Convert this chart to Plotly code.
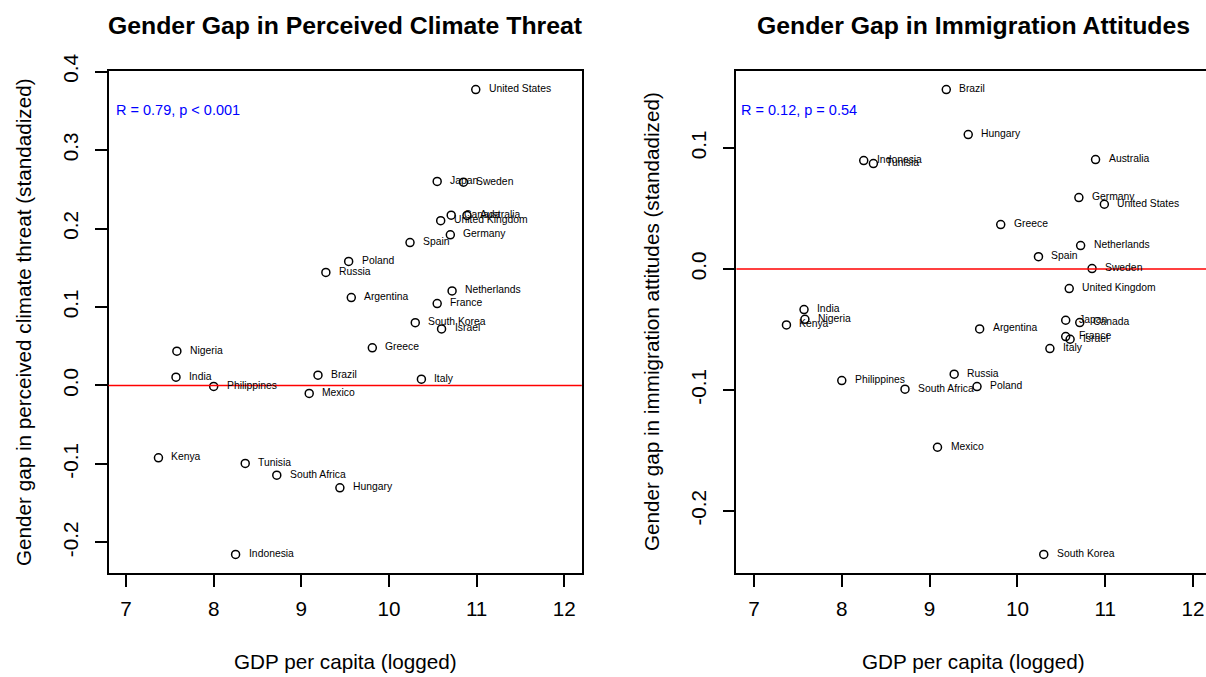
import plotly.graph_objects as go

# ---------------- data ----------------
countries = ["United States", "Japan", "Sweden", "Canada", "Australia", "United Kingdom",
             "Germany", "Spain", "Poland", "Russia", "Argentina", "Netherlands", "France",
             "South Korea", "Israel", "Nigeria", "Greece", "India", "Brazil", "Italy",
             "Philippines", "Mexico", "Kenya", "Tunisia", "South Africa", "Hungary", "Indonesia"]
gdp = [10.99, 10.55, 10.85, 10.71, 10.89, 10.59,
       10.70, 10.24, 9.54, 9.28, 9.57, 10.72, 10.55,
       10.30, 10.60, 7.58, 9.81, 7.57, 9.19, 10.37,
       8.00, 9.09, 7.37, 8.36, 8.72, 9.44, 8.25]
climate_gap = [0.377, 0.260, 0.259, 0.217, 0.2166, 0.210,
               0.192, 0.182, 0.158, 0.144, 0.112, 0.1205, 0.1044,
               0.080, 0.072, 0.0437, 0.0479, 0.0106, 0.0131, 0.008,
               -0.0013, -0.0102, -0.0922, -0.0994, -0.1143, -0.1304, -0.2153]
immig_gap = [0.0535, -0.0424, 0.0003, -0.0443, 0.0904, -0.0162,
             0.059, 0.0102, -0.0972, -0.087, -0.0496, 0.0193, -0.0559,
             -0.236, -0.0581, -0.0416, 0.0367, -0.0336, 0.1483, -0.0658,
             -0.0923, -0.1474, -0.0463, 0.0871, -0.0994, 0.1111, 0.0896]

x_ticks = [7, 8, 9, 10, 11, 12]
x_tick_text = ["7", "8", "9", "10", "11", "12"]
climate_ticks = [-0.2, -0.1, 0.0, 0.1, 0.2, 0.3, 0.4]
climate_tick_text = ["-0.2", "-0.1", "0.0", "0.1", "0.2", "0.3", "0.4"]
immig_ticks = [-0.2, -0.1, 0.0, 0.1]
immig_tick_text = ["-0.2", "-0.1", "0.0", "0.1"]

titles = ["Gender Gap in Perceived Climate Threat", "Gender Gap in Immigration Attitudes"]
y_titles = ["Gender gap in perceived climate threat (standadized)",
            "Gender gap in immigration attitudes (standadized)"]
x_title = "GDP per capita (logged)"
stat_texts = ["R = 0.79, p < 0.001", "R = 0.12, p = 0.54"]

# ---------------- geometry ----------------
W, H = 1206, 677
FONT = "Arial, Liberation Sans, Helvetica, sans-serif"
AX = 20.7
box_top, box_bot = 71.0, 573.0
L_left, L_right = 108.5, 581.8
R_left, R_right_full = 736.4, 1210.6
xlim = (6.8, 12.2)
px_per_unit_R = (R_right_full - R_left) / (xlim[1] - xlim[0])
xr2_end = xlim[0] + (W - R_left) / px_per_unit_R


def px(x):
    return x / W


def py(y):
    return 1 - y / H


def rlim(vals):
    lo, hi = min(vals), max(vals)
    d = (hi - lo) * 0.04
    return [lo - d, hi + d]


ydom = [py(box_bot), py(box_top)]

fig = go.Figure()
fig.add_trace(go.Scatter(x=gdp, y=climate_gap, mode="markers", xaxis="x", yaxis="y",
                         marker=dict(symbol="circle-open", size=8, color="black",
                                     line=dict(width=1.5, color="black")),
                         hoverinfo="skip", showlegend=False))
fig.add_trace(go.Scatter(x=gdp, y=immig_gap, mode="markers", xaxis="x2", yaxis="y2",
                         marker=dict(symbol="circle-open", size=8, color="black",
                                     line=dict(width=1.5, color="black")),
                         hoverinfo="skip", showlegend=False))

axis_common = dict(showgrid=False, zeroline=False, showline=True, linecolor="black",
                   linewidth=1.5, ticks="outside", ticklen=12, tickwidth=1.5,
                   tickcolor="black", automargin=False,
                   tickfont=dict(family=FONT, size=AX, color="black"))

fig.update_layout(
    template="none",
    width=W, height=H, margin=dict(l=0, r=0, t=0, b=0, pad=0, autoexpand=False),
    paper_bgcolor="white", plot_bgcolor="white", showlegend=False,
    xaxis=dict(domain=[px(L_left), px(L_right)], range=list(xlim), anchor="y",
               tickvals=x_ticks, ticktext=x_tick_text, mirror=True,
               ticklabelstandoff=4, **axis_common),
    yaxis=dict(domain=ydom, range=rlim(climate_gap), anchor="x",
               tickvals=climate_ticks, ticktext=climate_tick_text, tickangle=-90,
               mirror=True, ticklabelstandoff=8, **axis_common),
    xaxis2=dict(domain=[px(R_left), 1.0], range=[xlim[0], xr2_end], anchor="y2",
                tickvals=x_ticks, ticktext=x_tick_text, mirror=True,
                ticklabelstandoff=4, **axis_common),
    yaxis2=dict(domain=ydom, range=rlim(immig_gap), anchor="x2",
                tickvals=immig_ticks, ticktext=immig_tick_text, tickangle=-90,
                mirror=False, ticklabelstandoff=8, **axis_common),
)

# zero reference lines
for xr, yr in (("x domain", "y"), ("x2 domain", "y2")):
    fig.add_shape(type="line", xref=xr, yref=yr, x0=0, x1=1, y0=0, y1=0,
                  line=dict(color="red", width=1.5))

annotations = []
# country labels
for xa, ya, vals in (("x", "y", climate_gap), ("x2", "y2", immig_gap)):
    for name, gx, gy in zip(countries, gdp, vals):
        annotations.append(dict(x=gx, y=gy, xref=xa, yref=ya, text=name, showarrow=False,
                                xanchor="left", yanchor="middle", xshift=11, yshift=1,
                                font=dict(family=FONT, size=10.35, color="black")))

# titles
centers = [(L_left + L_right) / 2, (R_left + R_right_full) / 2]
for c, t in zip(centers, titles):
    annotations.append(dict(x=px(c), y=py(25), xref="paper", yref="paper", text="<b>" + t + "</b>",
                            showarrow=False, xanchor="center", yanchor="middle",
                            font=dict(family=FONT, size=24.8, color="black")))
# x titles
for c in centers:
    annotations.append(dict(x=px(c), y=py(661), xref="paper", yref="paper", text=x_title,
                            showarrow=False, xanchor="center", yanchor="middle",
                            font=dict(family=FONT, size=AX, color="black")))
# y titles
for xpos, t in zip((23, 651), y_titles):
    annotations.append(dict(x=px(xpos), y=py((box_top + box_bot) / 2), xref="paper", yref="paper",
                            text=t, textangle=-90, showarrow=False, xanchor="center",
                            yanchor="middle", font=dict(family=FONT, size=AX, color="black")))
# stats text
for xpos, t in zip((114, 738.7), stat_texts):
    annotations.append(dict(x=px(xpos), y=py(110), xref="paper", yref="paper", text=t,
                            showarrow=False, xanchor="left", yanchor="middle",
                            font=dict(family=FONT, size=14.5, color="#0000FF")))

fig.update_layout(annotations=annotations)
fig.write_html("out.html")
